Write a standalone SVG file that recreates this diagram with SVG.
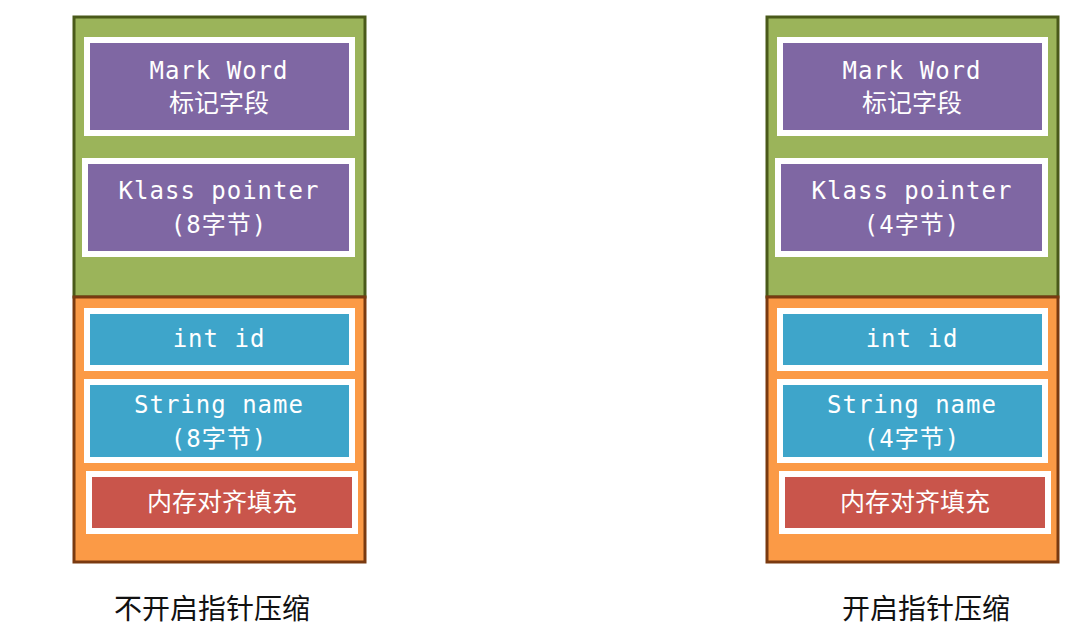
<svg xmlns="http://www.w3.org/2000/svg" width="1069" height="635" viewBox="0 0 1069 635">
<style>
.hdr{fill:#9bb45a;stroke:#4a5a1a;stroke-width:3}
.body{fill:#fb9a46;stroke:#7a3a10;stroke-width:3}
.pu{fill:#7f67a3;stroke:#fff;stroke-width:6}
.bl{fill:#3ea5ca;stroke:#fff;stroke-width:6}
.rd{fill:#c9554b;stroke:#fff;stroke-width:6}
.t{font-family:"DejaVu Sans Mono","Noto Sans CJK SC",monospace;font-size:24px;fill:#fff;text-anchor:middle;letter-spacing:1px}
.c{font-family:"Noto Sans CJK SC",sans-serif;font-size:25px;fill:#fff;text-anchor:middle}
.cap{font-family:"Noto Sans CJK SC",sans-serif;font-size:28px;fill:#111;text-anchor:middle}
</style>
<g id="left">
<rect class="hdr" x="74" y="17" width="291" height="280"/>
<rect class="body" x="74" y="297" width="291" height="265"/>
<g id="l-mark"><rect class="pu" x="87" y="40" width="265" height="93"/><text class="t" x="219" y="79">Mark Word</text><text class="c" x="219" y="112">标记字段</text></g>
<g id="l-klass"><rect class="pu" x="85" y="161" width="267" height="93"/><text class="t" x="219" y="199">Klass pointer</text><text class="t" x="219" y="233">(8<tspan font-family="Noto Sans CJK SC">字节</tspan>)</text></g>
<g id="l-id"><rect class="bl" x="87" y="311" width="265" height="57"/><text class="t" x="219" y="347">int id</text></g>
<g id="l-name"><rect class="bl" x="87" y="382" width="265" height="78"/><text class="t" x="219" y="413">String name</text><text class="t" x="219" y="447">(8<tspan font-family="Noto Sans CJK SC">字节</tspan>)</text></g>
<g id="l-pad"><rect class="rd" x="89" y="474" width="266" height="57"/><text class="c" x="222" y="511">内存对齐填充</text></g>
<text class="cap" x="212" y="619">不开启指针压缩</text>
</g>
<g id="right">
<rect class="hdr" x="767" y="17" width="291" height="280"/>
<rect class="body" x="767" y="297" width="291" height="265"/>
<g id="r-mark"><rect class="pu" x="780" y="40" width="265" height="93"/><text class="t" x="912" y="79">Mark Word</text><text class="c" x="912" y="112">标记字段</text></g>
<g id="r-klass"><rect class="pu" x="778" y="161" width="267" height="93"/><text class="t" x="912" y="199">Klass pointer</text><text class="t" x="912" y="233">(4<tspan font-family="Noto Sans CJK SC">字节</tspan>)</text></g>
<g id="r-id"><rect class="bl" x="780" y="311" width="265" height="57"/><text class="t" x="912" y="347">int id</text></g>
<g id="r-name"><rect class="bl" x="780" y="382" width="265" height="78"/><text class="t" x="912" y="413">String name</text><text class="t" x="912" y="447">(4<tspan font-family="Noto Sans CJK SC">字节</tspan>)</text></g>
<g id="r-pad"><rect class="rd" x="782" y="474" width="266" height="57"/><text class="c" x="915" y="511">内存对齐填充</text></g>
<text class="cap" x="926" y="619">开启指针压缩</text>
</g>
<g id="connectors"/>
</svg>
